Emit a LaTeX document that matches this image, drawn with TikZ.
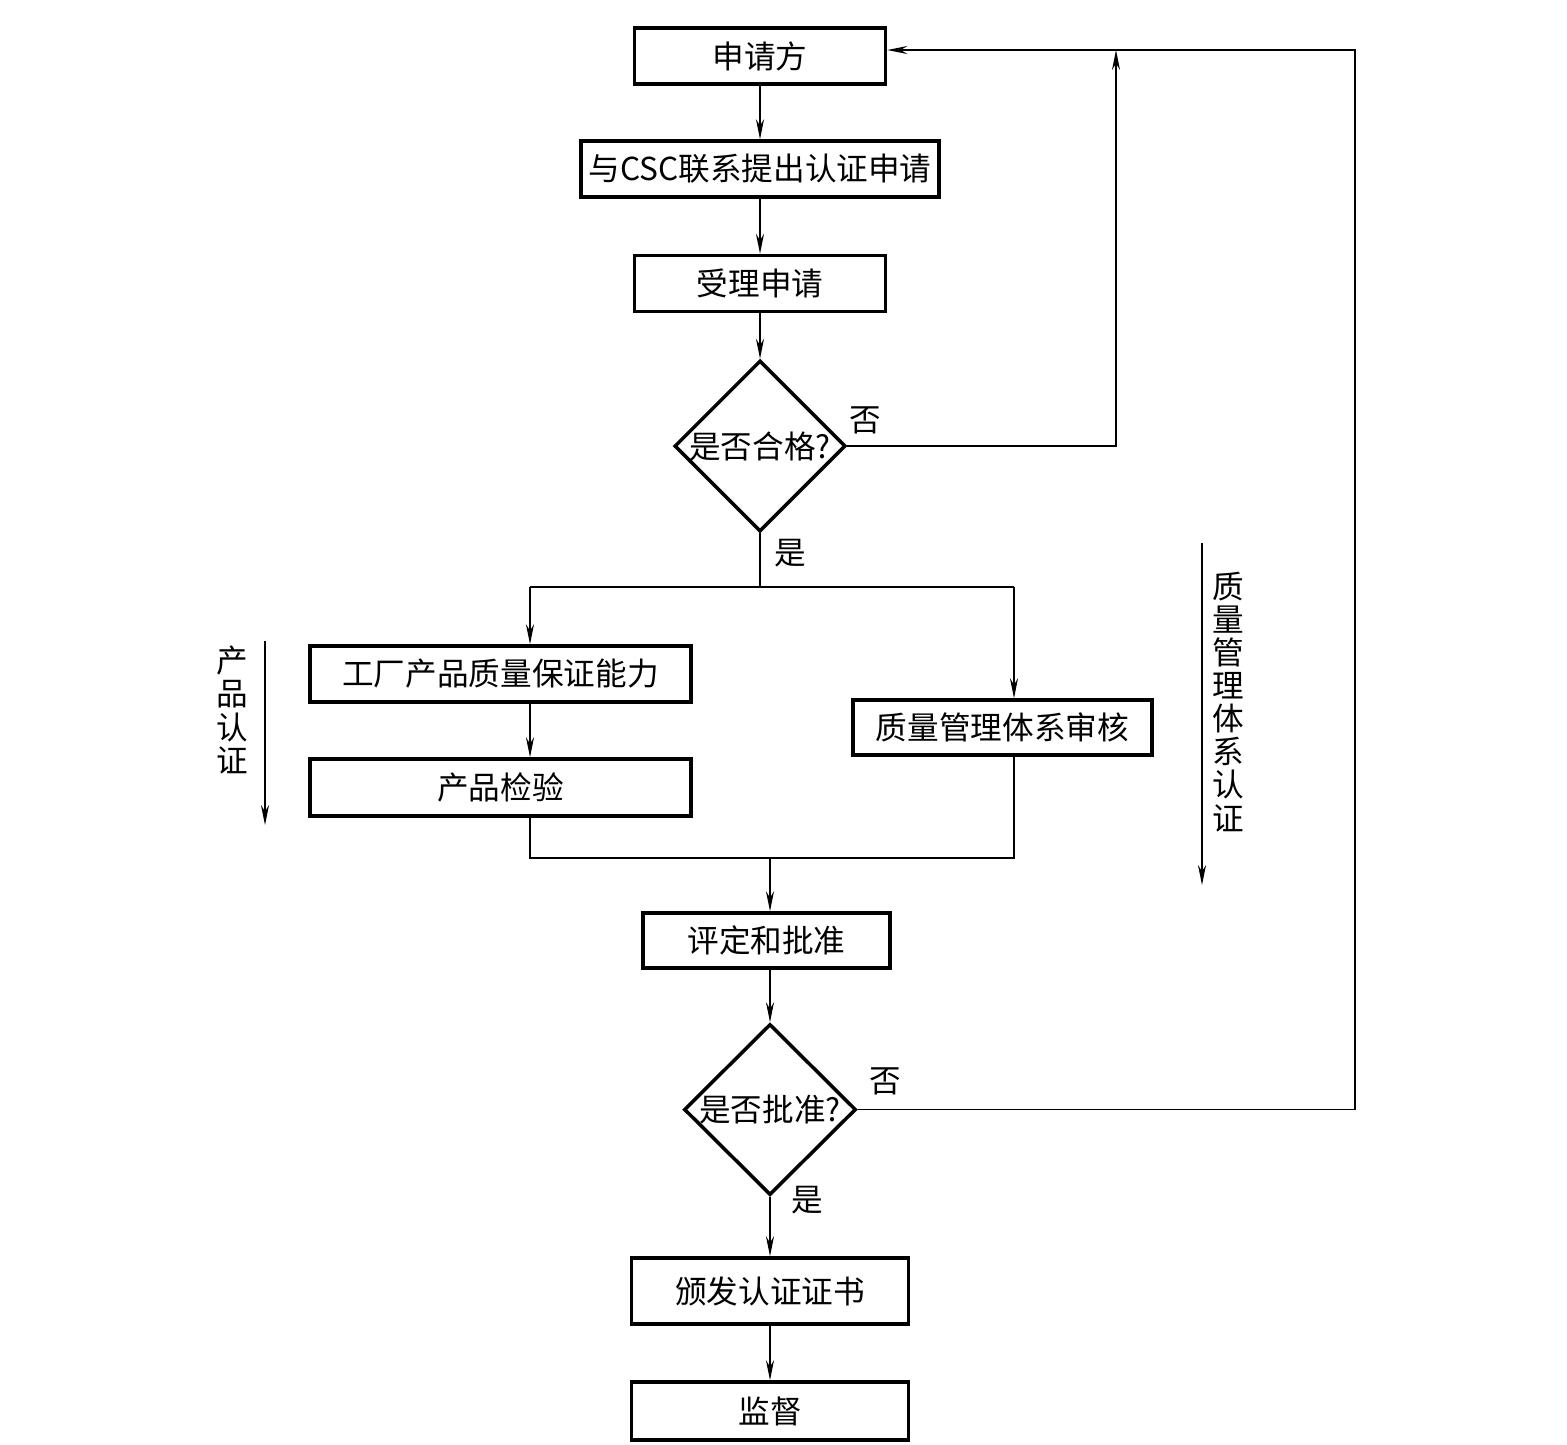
\documentclass[tikz,border=0pt]{standalone}
\usepackage{fontspec}
\setmainfont{Noto Sans CJK SC}
\usepackage{tikz}
\usetikzlibrary{positioning,shapes.geometric,arrows.meta,calc}

\begin{document}
\begin{tikzpicture}[every node/.style={font=\fontsize{18}{18.8}\selectfont},
    box/.style={draw, line width=2pt, minimum height=1.12cm, inner sep=0pt},
    decide/.style={draw, diamond, line width=2pt, inner sep=0pt, minimum width=3.42cm, minimum height=3.42cm},
    arr/.style={-{Stealth[length=0.4cm, width=0.16cm]}, line width=0.85pt},
    ln/.style={line width=0.85pt}]
    \useasboundingbox (0,0) rectangle (31.34,-28.88);
    % main column
    \node[box, minimum width=5.02cm] (a) at (15.2,-1.12) {申请方};
    \node[box, minimum width=7.16cm] (b) at (15.2,-3.38) {与CSC联系提出认证申请};
    \node[box, minimum width=5.02cm] (c) at (15.2,-5.67) {受理申请};
    \node[decide] (q1) at (15.2,-8.92) {\makebox[0pt]{是否合格?}};
    \draw[arr] (a) -- (b);
    \draw[arr] (b) -- (c);
    \draw[arr] (c) -- (q1);
    \node at (17.3,-8.4) {否};
    \node at (15.8,-11.06) {是};
    % two branches
    \node[box, minimum width=7.62cm] (gc) at (10.01,-13.48) {工厂产品质量保证能力};
    \node[box, minimum width=7.62cm, minimum height=1.14cm] (jy) at (10.01,-15.75) {产品检验};
    \node[box, minimum width=5.98cm, minimum height=1.1cm] (zl) at (20.05,-14.55) {质量管理体系审核};
    \coordinate (sp) at (15.2,-11.74);
    \coordinate (lb) at (10.6,-11.74);
    \coordinate (rb) at (20.28,-11.74);
    \coordinate (lm) at (10.6,-17.16);
    \coordinate (rm) at (20.28,-17.16);
    \coordinate (mm) at (15.4,-17.16);
    \draw[ln] (q1.south) -- (sp);
    \draw[ln] (lb) -- (rb);
    \draw[arr] (lb) -- (lb |- gc.north);
    \draw[arr] (rb) -- (rb |- zl.north);
    \draw[arr] (lb |- gc.south) -- (lb |- jy.north);
    \draw[ln] (lb |- jy.south) -- (lm) -- (rm) -- (rb |- zl.south);
    % lower column
    \node[box, minimum width=4.94cm, minimum height=1.1cm] (pd) at (15.33,-18.81) {评定和批准};
    \node[decide, minimum width=3.44cm] (q2) at (15.4,-22.19) {\makebox[0pt]{是否批准?}};
    \node[box, minimum width=5.54cm, minimum height=1.32cm] (bz) at (15.4,-25.82) {颁发认证证书};
    \node[box, minimum width=5.54cm, minimum height=1.16cm] (jd) at (15.4,-28.22) {监督};
    \draw[arr] (mm) -- (mm |- pd.north);
    \draw[arr] (mm |- pd.south) -- (q2);
    \draw[arr] (q2) -- (bz);
    \draw[arr] (bz) -- (jd);
    \node at (17.7,-21.62) {否};
    \node at (16.14,-24.0) {是};
    % feedback lines
    \coordinate (f1) at (22.32,-1.0);
    \coordinate (f2) at (27.1,-1.0);
    \draw[arr] (q1.east) -| (f1);
    \draw[arr] (q2.east) -| (f2) -- (f2 -| a.east);
    % side notes
    \node[align=center] (cp) at (4.64,-14.2) {产\\品\\认\\证};
    \coordinate (cp1) at (5.3,-12.82);
    \coordinate (cp2) at (5.3,-16.5);
    \draw[arr] (cp1) -- (cp2);
    \node[align=center] (tx) at (24.56,-14.04) {质\\量\\管\\理\\体\\系\\认\\证};
    \coordinate (tx1) at (24.04,-10.86);
    \coordinate (tx2) at (24.04,-17.7);
    \draw[arr] (tx1) -- (tx2);
\end{tikzpicture}
\end{document}
